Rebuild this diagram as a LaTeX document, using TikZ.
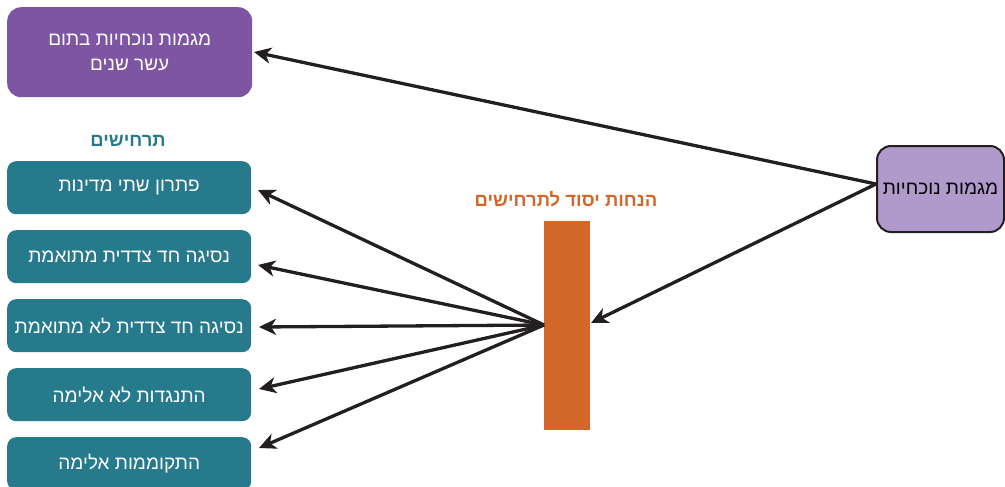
\documentclass[tikz,border=0pt]{standalone}
\usepackage{fontspec}
\setmainfont{Liberation Sans}
\newfontfamily\hebfont[Script=Hebrew]{Liberation Sans}
\TeXXeTstate=1
\usetikzlibrary{arrows.meta}
\definecolor{purpledark}{HTML}{7E55A3}
\definecolor{lavender}{HTML}{B09ACB}
\definecolor{tealbox}{HTML}{277A8C}
\definecolor{orangebar}{HTML}{D2672A}
\definecolor{inkline}{HTML}{231F20}
\tikzset{
  scenbox/.style={fill=tealbox, draw=none, rounded corners=9pt, minimum width=244pt, minimum height=53pt, anchor=north west, text=white, font=\hebfont\fontsize{19}{23}\selectfont, inner sep=0pt},
  conn/.style={draw=inkline, line width=3.3pt, -{Stealth[length=17pt,width=16pt,inset=5pt]}}
}
\begin{document}
\begin{tikzpicture}[x=1pt,y=-1pt]
\useasboundingbox (0,0) rectangle (1005,487);
% top purple box
\node[fill=purpledark, rounded corners=14pt, minimum width=245pt, minimum height=90pt, anchor=north west, text=white, align=center, font=\hebfont\fontsize{19}{25}\selectfont, inner sep=0pt] (top) at (7,7) {\beginR מגמות נוכחיות בתום\endR\\\beginR עשר שנים\endR};
% header
\node[text=tealbox, font=\hebfont\bfseries\fontsize{18.5}{22}\selectfont] (hdr) at (128,141) {\beginR תרחישים\endR};
% scenario boxes
\node[scenbox] (s1) at (7,161) {\beginR פתרון שתי מדינות\endR};
\node[scenbox] (s2) at (7,230) {\beginR נסיגה חד צדדית מתואמת\endR};
\node[scenbox] (s3) at (7,299) {\beginR נסיגה חד צדדית לא מתואמת\endR};
\node[scenbox] (s4) at (7,368) {\beginR התנגדות לא אלימה\endR};
\node[scenbox] (s5) at (7,437) {\beginR התקוממות אלימה\endR};
% orange bar
\node[fill=orangebar, minimum width=46pt, minimum height=209pt, anchor=north west, inner sep=0pt] (bar) at (544,221) {};
\node[text=orangebar, font=\hebfont\bfseries\fontsize{18.5}{22}\selectfont] (barlbl) at (566,199) {\beginR הנחות יסוד לתרחישים\endR};
% right box
\node[fill=lavender, draw=inkline, line width=2pt, rounded corners=14pt, minimum width=127pt, minimum height=86pt, anchor=north west, inner sep=0pt, font=\hebfont\fontsize{19}{23}\selectfont] (cur) at (876,145) {\beginR מגמות נוכחיות\endR};
% connector points
\coordinate (cw) at (876,184);
\coordinate (bw) at (544,325);
\coordinate (be) at (591,323);
\coordinate (t0) at (254,52);
\coordinate (t1) at (258,190);
\coordinate (t2) at (258,265);
\coordinate (t3) at (259,327);
\coordinate (t4) at (259,389);
\coordinate (t5) at (259,448);
% connectors
\draw[conn] (cw) -- (t0);
\draw[conn] (cw) -- (be);
\draw[conn] (bw) -- (t1);
\draw[conn] (bw) -- (t2);
\draw[conn] (bw) -- (t3);
\draw[conn] (bw) -- (t4);
\draw[conn] (bw) -- (t5);
\end{tikzpicture}
\end{document}
